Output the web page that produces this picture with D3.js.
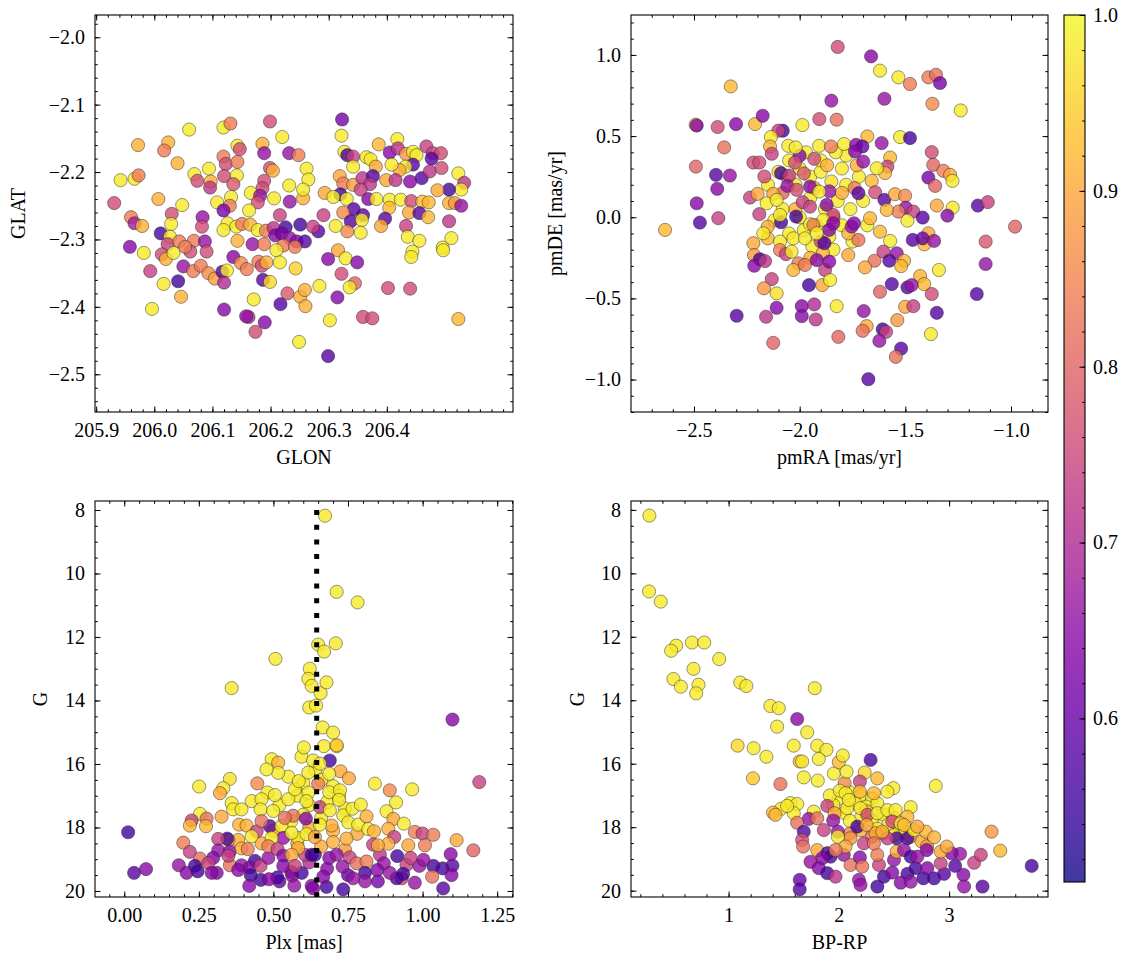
<!DOCTYPE html>
<html><head><meta charset="utf-8">
<script src="https://cdn.jsdelivr.net/npm/d3@7"></script>
<style>body{margin:0;background:#fff}</style>
</head><body>
<svg id="c" width="1133" height="965"></svg>
<script>
// ---------------- DATA ----------------
// Panel 1: [GLON, GLAT, probability]
const posData = [
[206.060,-2.137,.98],[206.119,-2.134,.98],[206.131,-2.128,.84],[206.199,-2.125,.76],[205.972,-2.160,.91],
[206.024,-2.156,.91],[206.017,-2.168,.84],[206.143,-2.161,.98],[206.147,-2.166,.76],[206.186,-2.158,.91],
[206.220,-2.148,.98],[206.119,-2.177,.84],[206.123,-2.188,.76],[206.143,-2.185,.84],[206.189,-2.172,.66],
[206.232,-2.172,.66],[206.248,-2.175,.84],[206.040,-2.187,.91],[205.942,-2.212,.98],[205.966,-2.210,.98],
[205.973,-2.205,.84],[206.069,-2.203,.98],[206.094,-2.195,.98],[206.074,-2.213,.76],[206.097,-2.214,.91],
[206.096,-2.223,.72],[206.120,-2.206,.76],[206.142,-2.205,.98],[206.136,-2.218,.78],[206.199,-2.194,.76],
[206.204,-2.198,.91],[206.189,-2.213,.76],[206.186,-2.224,.76],[206.232,-2.220,.98],[206.262,-2.195,.98],
[205.931,-2.246,.76],[206.007,-2.240,.91],[206.048,-2.249,.98],[206.108,-2.245,.98],[206.132,-2.237,.98],
[206.130,-2.250,.84],[206.119,-2.257,.62],[206.166,-2.231,.98],[206.182,-2.235,.66],[206.178,-2.245,.76],
[206.163,-2.257,.98],[206.206,-2.239,.98],[206.233,-2.244,.66],[206.256,-2.239,.91],[205.960,-2.267,.84],
[205.966,-2.276,.68],[205.979,-2.280,.91],[206.030,-2.262,.76],[206.029,-2.277,.98],[206.083,-2.267,.66],
[206.082,-2.281,.76],[206.126,-2.276,.98],[206.141,-2.281,.98],[206.151,-2.277,.84],[206.165,-2.278,.91],
[206.119,-2.286,.98],[206.011,-2.291,.56],[206.027,-2.296,.98],[206.023,-2.307,.74],[206.043,-2.303,.84],
[206.068,-2.302,.84],[206.087,-2.303,.66],[206.090,-2.318,.76],[206.062,-2.318,.76],[206.053,-2.311,.84],
[205.958,-2.311,.64],[205.982,-2.320,.98],[206.013,-2.322,.76],[206.020,-2.329,.91],[206.033,-2.320,.98],
[206.143,-2.302,.91],[206.169,-2.307,.66],[206.189,-2.307,.84],[206.178,-2.286,.98],[206.192,-2.287,.84],
[206.205,-2.283,.72],[206.216,-2.264,.74],[206.226,-2.282,.56],[206.251,-2.278,.56],[206.208,-2.294,.64],
[206.219,-2.291,.62],[206.233,-2.298,.66],[206.245,-2.303,.64],[206.259,-2.303,.58],[206.222,-2.309,.84],
[206.210,-2.316,.98],[206.242,-2.311,.84],[206.136,-2.326,.64],[206.149,-2.335,.86],[206.159,-2.344,.84],
[206.179,-2.333,.84],[206.185,-2.339,.76],[206.193,-2.334,.91],[206.216,-2.334,.98],[206.243,-2.343,.95],
[205.993,-2.347,.74],[206.050,-2.340,.66],[206.067,-2.347,.84],[206.080,-2.339,.84],[206.093,-2.350,.86],
[206.104,-2.358,.89],[206.117,-2.348,.58],[206.125,-2.346,.98],[206.120,-2.364,.70],[206.187,-2.360,.58],
[206.199,-2.363,.96],[206.041,-2.362,.56],[206.016,-2.366,.98],[206.046,-2.385,.91],[205.996,-2.403,.98],
[206.171,-2.389,.98],[206.229,-2.380,.78],[206.251,-2.385,.91],[206.259,-2.375,.91],[206.260,-2.399,.91],
[206.120,-2.404,.64],[206.217,-2.396,.58],[206.162,-2.415,.70],[206.158,-2.414,.66],[206.190,-2.423,.64],
[206.174,-2.437,.76],[206.249,-2.452,.98],
[206.323,-2.122,.62],[206.322,-2.146,.98],[206.327,-2.170,.98],[206.332,-2.175,.56],[206.342,-2.177,.74],
[206.342,-2.192,.98],[206.365,-2.178,.98],[206.372,-2.181,.98],[206.386,-2.159,.92],[206.381,-2.192,.90],
[206.405,-2.171,.64],[206.418,-2.151,.98],[206.419,-2.165,.72],[206.433,-2.173,.88],[206.445,-2.170,.98],
[206.451,-2.175,.98],[206.468,-2.162,.74],[206.479,-2.172,.74],[206.493,-2.172,.76],[206.477,-2.180,.58],
[206.445,-2.189,.58],[206.432,-2.192,.98],[206.422,-2.197,.90],[206.408,-2.189,.98],[206.399,-2.212,.90],
[206.415,-2.212,.72],[206.440,-2.214,.64],[206.460,-2.209,.58],[206.474,-2.199,.72],[206.494,-2.194,.76],
[206.523,-2.202,.98],[206.533,-2.216,.72],[206.528,-2.226,.98],[206.507,-2.226,.56],[206.487,-2.227,.90],
[206.507,-2.246,.91],[206.517,-2.246,.88],[206.528,-2.250,.66],[206.507,-2.273,.72],[206.319,-2.206,.90],
[206.325,-2.217,.84],[206.320,-2.233,.56],[206.293,-2.231,.90],[206.308,-2.237,.98],[206.331,-2.240,.98],
[206.342,-2.219,.89],[206.358,-2.209,.72],[206.376,-2.206,.58],[206.371,-2.218,.72],[206.355,-2.226,.74],
[206.368,-2.240,.64],[206.382,-2.240,.98],[206.405,-2.241,.98],[206.424,-2.241,.98],[206.442,-2.243,.76],
[206.461,-2.244,.92],[206.472,-2.245,.92],[206.404,-2.253,.92],[206.438,-2.260,.90],[206.456,-2.261,.58],
[206.471,-2.267,.92],[206.343,-2.255,.58],[206.325,-2.260,.86],[206.359,-2.264,.58],[206.338,-2.273,.58],
[206.357,-2.271,.98],[206.355,-2.290,.98],[206.332,-2.288,.86],[206.312,-2.280,.98],[206.397,-2.269,.58],
[206.390,-2.280,.90],[206.433,-2.280,.74],[206.436,-2.296,.98],[206.456,-2.302,.98],[206.444,-2.318,.98],
[206.442,-2.326,.98],[206.496,-2.312,.98],[206.497,-2.316,.98],[206.511,-2.298,.98],[206.265,-2.211,.98],
[206.256,-2.226,.98],[206.291,-2.264,.74],[206.282,-2.288,.58],[206.273,-2.281,.74],[206.316,-2.316,.90],
[206.329,-2.328,.98],[206.299,-2.329,.64],[206.349,-2.334,.64],[206.322,-2.351,.76],[206.345,-2.365,.80],
[206.336,-2.371,.98],[206.284,-2.369,.98],[206.315,-2.386,.64],[206.402,-2.372,.76],[206.440,-2.373,.76],
[206.359,-2.415,.76],[206.375,-2.417,.76],[206.302,-2.420,.98],[206.523,-2.418,.92],[206.299,-2.473,.58]
];

// Panel 2: [pmRA, pmDE, probability]
const pmData = [
[-2.05,0.35,.98],[-2.0,0.30,.98],[-1.95,0.25,.98],[-1.90,0.28,.98],[-1.85,0.22,.97],[-1.80,0.30,.98],
[-1.78,0.20,.98],[-1.95,0.12,.98],[-1.88,0.05,.98],[-1.82,0.10,.98],[-1.76,0.05,.98],[-2.02,0.20,.98],
[-2.08,0.05,.98],[-1.92,-0.05,.98],[-1.86,-0.12,.98],[-1.80,-0.05,.98],[-1.98,-0.08,.98],[-2.12,-0.02,.98],
[-1.75,-0.15,.98],[-1.84,-0.20,.98],[-1.94,-0.18,.98],[-2.0,0.0,.98],[-1.78,0.38,.98],[-1.83,0.40,.98],
[-1.97,0.40,.98],[-2.10,0.28,.98],[-2.15,0.20,.98],[-1.72,0.25,.98],[-1.70,0.10,.98],[-1.68,-0.05,.98],
[-2.05,-0.10,.98],[-1.90,0.35,.98],
[-1.93,0.18,.91],[-1.80,0.15,.91],[-1.87,0.32,.91],[-2.02,0.05,.91],[-1.77,-0.10,.91],[-1.89,-0.22,.91],
[-1.73,0.32,.91],[-2.06,0.25,.91],[-1.95,-0.25,.91],
[-1.84,0.00,.82],[-1.98,0.27,.78],[-2.08,0.15,.80],[-1.74,0.18,.84],[-1.90,-0.15,.76],
[-1.86,0.16,.66],[-2.0,0.38,.64],
[-1.820,1.049,.76],[-2.326,0.806,.92],[-1.850,0.718,.66],[-2.492,0.570,.91],[-2.487,0.565,.64],
[-2.388,0.556,.76],[-2.301,0.574,.64],[-2.211,0.574,.92],[-2.175,0.625,.64],[-1.987,0.568,.98],
[-1.907,0.605,.76],[-1.825,0.601,.82],[-2.080,0.533,.56],[-2.101,0.533,.74],[-2.357,0.430,.82],
[-2.136,0.494,.98],[-2.140,0.436,.92],[-2.054,0.440,.98],[-2.019,0.430,.98],[-1.908,0.440,.98],
[-1.852,0.436,.84],[-2.132,0.391,.74],[-2.491,0.312,.80],[-2.219,0.337,.76],[-2.191,0.337,.76],
[-2.396,0.261,.58],[-2.330,0.257,.66],[-2.167,0.251,.76],[-2.088,0.272,.56],[-2.049,0.257,.74],
[-2.022,0.337,.76],[-1.931,0.360,.76],[-2.390,0.175,.64],[-2.235,0.121,.74],[-2.199,0.144,.90],
[-2.125,0.144,.90],[-2.058,0.193,.66],[-2.014,0.169,.76],[-1.951,0.189,.64],[-2.487,0.086,.64],
[-2.472,-0.033,.58],[-2.385,-0.006,.74],[-2.191,0.019,.74],[-2.088,-0.031,.56],[-2.017,0.004,.56],
[-2.156,0.086,.98],[-2.109,0.107,.98],[-1.986,0.093,.74],[-1.907,0.158,.98],[-1.872,0.076,.64],
[-1.841,0.014,.76],[-2.637,-0.078,.92],[-1.951,-0.043,.98],[-1.888,-0.017,.98],
[-2.219,-0.160,.90],[-2.216,-0.233,.88],[-2.188,-0.259,.56],[-2.215,-0.299,.64],[-2.164,-0.270,.72],
[-2.151,-0.130,.92],[-2.093,-0.150,.98],[-2.151,-0.058,.90],[-2.093,-0.202,.84],[-2.065,-0.227,.74],
[-2.038,-0.212,.98],[-2.030,-0.130,.98],[-1.975,-0.130,.98],[-2.006,-0.284,.84],[-2.030,-0.325,.92],
[-1.975,-0.294,.84],[-1.956,-0.418,.56],[-1.919,-0.264,.64],[-1.880,-0.325,.74],[-1.893,-0.418,.90],
[-1.883,-0.160,.58],[-1.856,-0.387,.98],[-1.860,-0.274,.64],[-2.132,-0.381,.74],[-2.169,-0.438,.88],
[-2.109,-0.469,.97],[-2.298,-0.607,.58],[-2.159,-0.613,.72],[-2.109,-0.558,.64],[-1.990,-0.548,.64],
[-1.931,-0.537,.70],[-1.990,-0.609,.64],[-1.924,-0.630,.72],[-2.125,-0.774,.80],[-1.817,-0.737,.80],
[-1.825,-0.548,.98],[-1.951,0.065,.74],[-1.860,-0.078,.64],[-1.841,-0.037,.64],[-2.172,-0.099,.98],
[-1.935,-0.048,.84],[-1.919,-0.099,.98],[-2.093,0.014,.98],
[-1.662,0.991,.64],[-1.620,0.903,.98],[-1.533,0.862,.98],[-1.478,0.821,.84],[-1.391,0.862,.84],
[-1.355,0.878,.82],[-1.336,0.827,.62],[-1.599,0.730,.66],[-1.372,0.699,.86],[-1.238,0.658,.98],
[-1.680,0.498,.92],[-1.790,0.451,.98],[-1.733,0.446,.64],[-1.703,0.436,.60],[-1.699,0.343,.66],
[-1.738,0.405,.64],[-1.612,0.457,.66],[-1.525,0.494,.98],[-1.478,0.488,.56],[-1.375,0.401,.76],
[-1.368,0.323,.80],[-1.391,0.244,.62],[-1.359,0.193,.80],[-1.320,0.286,.84],[-1.288,0.261,.90],
[-1.277,0.224,.98],[-1.572,0.368,.92],[-1.585,0.312,.74],[-1.596,0.272,.92],[-1.635,0.302,.98],
[-1.659,0.224,.92],[-1.722,0.148,.58],[-1.643,0.154,.76],[-1.599,0.107,.58],[-1.549,0.142,.90],
[-1.501,0.133,.86],[-1.498,0.059,.66],[-1.462,0.035,.74],[-1.418,-0.002,.58],[-1.490,-0.021,.98],
[-1.533,0.035,.84],[-1.588,0.045,.92],[-1.351,0.072,.90],[-1.276,0.059,.98],[-1.301,0.010,.64],
[-1.157,0.072,.58],[-1.110,0.093,.74],[-0.981,-0.058,.80],[-1.120,-0.150,.78],[-1.120,-0.288,.66],
[-1.162,-0.473,.58],[-1.391,-0.099,.90],[-1.410,-0.167,.92],[-1.465,-0.140,.58],[-1.418,-0.130,.60],
[-1.364,-0.146,.66],[-1.572,-0.146,.98],[-1.620,-0.089,.92],[-1.667,-0.006,.92],[-1.722,-0.140,.82],
[-1.754,-0.058,.66],[-1.770,-0.233,.90],[-1.604,-0.212,.74],[-1.646,-0.268,.82],[-1.691,-0.309,.90],
[-1.541,-0.222,.66],[-1.576,-0.268,.58],[-1.506,-0.268,.92],[-1.520,-0.301,.92],[-1.341,-0.325,.98],
[-1.430,-0.362,.91],[-1.411,-0.412,.92],[-1.564,-0.412,.58],[-1.490,-0.432,.58],[-1.470,-0.418,.66],
[-1.375,-0.473,.76],[-1.620,-0.459,.80],[-1.697,-0.578,.66],[-1.501,-0.552,.90],[-1.462,-0.548,.74],
[-1.351,-0.589,.58],[-1.538,-0.634,.88],[-1.683,-0.671,.90],[-1.702,-0.700,.82],[-1.607,-0.691,.56],
[-1.591,-0.706,.74],[-1.623,-0.762,.66],[-1.379,-0.720,.98],[-1.520,-0.809,.58],[-1.545,-0.860,.82],
[-1.675,-0.998,.58],[-1.743,-0.037,.64]
];

// Panel 3: [Plx, G, probability]
const plxData = [
[0.55,16.4,.98],[0.60,16.6,.98],[0.64,16.2,.98],[0.66,16.5,.98],[0.70,16.7,.98],[0.58,17.0,.98],
[0.62,17.3,.98],[0.68,17.2,.98],[0.72,17.0,.98],[0.52,17.3,.98],[0.60,17.6,.98],[0.66,17.7,.98],
[0.74,17.4,.98],[0.48,16.9,.98],[0.56,17.8,.98],
[0.62,18.0,.91],[0.70,18.1,.91],[0.50,18.1,.91],[0.78,18.2,.90],[0.58,18.5,.90],[0.66,18.6,.90],
[0.74,18.7,.88],[0.46,18.5,.90],
[0.62,19.1,.70],[0.68,19.3,.64],[0.56,19.4,.66],[0.75,19.5,.60],[0.85,19.7,.62],[0.52,19.7,.60],
[0.013,18.15,.56],[0.033,19.43,.58],[0.073,19.31,.64],[0.251,16.71,.98],[0.354,16.47,.97],
[0.332,16.76,.98],[0.321,16.92,.90],[0.446,16.61,.86],[0.494,15.85,.98],[0.516,15.96,.91],
[0.516,16.28,.98],[0.477,16.17,.98],[0.594,15.77,.98],[0.602,15.48,.98],[0.360,17.23,.98],
[0.254,17.57,.98],[0.226,17.78,.74],[0.276,17.72,.82],[0.220,17.94,.92],[0.274,17.96,.92],
[0.326,17.66,.90],[0.365,17.43,.98],[0.393,17.43,.98],[0.427,17.17,.98],[0.460,17.11,.98],
[0.457,17.43,.98],[0.505,16.98,.98],[0.499,17.48,.98],[0.550,17.11,.98],[0.572,16.80,.98],
[0.617,16.90,.98],[0.611,17.17,.98],[0.585,16.54,.98],[0.617,16.27,.98],[0.566,17.63,.82],
[0.609,17.72,.64],[0.385,17.91,.91],[0.410,17.94,.91],[0.444,18.12,.74],[0.488,17.96,.58],
[0.460,17.80,.82],[0.527,17.96,.98],[0.533,18.33,.66],[0.583,18.33,.98],[0.561,18.17,.98],
[0.427,18.28,.98],[0.494,18.33,.98],[0.382,18.39,.91],[0.349,18.39,.91],[0.345,18.35,.56],
[0.315,18.36,.74],[0.315,18.72,.66],[0.354,18.75,.64],[0.298,18.96,.64],[0.198,18.48,.84],
[0.220,18.77,.74],[0.254,18.98,.82],[0.237,19.21,.56],[0.183,19.19,.66],[0.209,19.43,.64],
[0.246,19.38,.56],[0.310,19.43,.64],[0.354,19.19,.82],[0.393,19.19,.66],[0.393,18.66,.91],
[0.414,18.68,.84],[0.438,19.05,.56],[0.421,19.26,.64],[0.457,19.21,.74],[0.483,18.96,.66],
[0.483,18.59,.84],[0.514,18.68,.74],[0.533,18.89,.64],[0.533,19.21,.64],[0.424,19.50,.56],
[0.458,19.65,.56],[0.513,19.57,.56],[0.485,19.63,.64],[0.419,19.84,.64],[0.563,19.52,.64],
[0.595,19.43,.56],[0.570,19.83,.66],[0.628,19.84,.64],[0.606,18.86,.74],[0.583,18.65,.91],
[0.561,18.86,.90],[0.628,18.86,.56],[0.572,19.21,.74],[0.382,19.34,.64],[0.349,18.89,.74],
[0.282,19.12,.74],[0.293,19.43,.64],[0.538,17.70,.82],
[0.669,15.44,.98],[0.712,15.44,.98],[0.689,15.89,.56],[0.633,15.89,.98],[0.656,15.99,.98],
[0.725,16.23,.90],[0.753,16.45,.90],[0.687,16.31,.98],[0.840,16.62,.98],[0.890,16.83,.86],
[0.965,16.80,.98],[1.190,16.57,.74],[0.650,16.62,.84],[0.687,16.89,.98],[0.723,16.83,.98],
[0.656,17.36,.74],[0.720,17.13,.98],[0.689,17.46,.98],[0.734,17.62,.98],[0.765,17.41,.98],
[0.793,17.28,.98],[0.695,17.94,.91],[0.656,17.91,.98],[0.611,18.21,.98],[0.751,17.84,.98],
[0.784,17.91,.98],[0.812,17.65,.91],[0.818,18.05,.98],[0.837,18.12,.91],[0.879,17.49,.98],
[0.911,17.21,.98],[0.902,17.73,.90],[0.937,17.88,.98],[0.885,18.04,.91],[0.905,18.30,.74],
[0.974,18.14,.84],[1.000,18.19,.74],[1.036,18.23,.84],[1.114,18.40,.90],[1.170,18.72,.80],
[1.008,18.56,.84],[0.952,18.56,.90],[0.885,18.51,.91],[0.745,18.35,.91],[0.700,18.46,.91],
[0.639,18.30,.90],[0.639,18.86,.56],[0.687,18.96,.64],[0.712,18.86,.66],[0.756,18.94,.74],
[0.732,19.23,.66],[0.779,19.13,.82],[0.812,19.07,.84],[0.834,18.54,.74],[0.857,18.86,.72],
[0.870,19.13,.66],[0.915,18.90,.56],[0.946,19.18,.74],[0.989,19.21,.66],[1.036,19.21,.56],
[1.067,19.29,.56],[1.100,19.20,.58],[1.094,18.84,.64],[1.097,19.50,.64],[1.032,19.55,.82],
[1.069,19.92,.58],[0.974,19.74,.66],[0.930,19.60,.74],[0.935,19.46,.56],[0.913,19.60,.56],
[0.890,19.43,.66],[0.807,19.43,.56],[0.807,19.70,.66],[0.767,19.60,.66],[0.848,19.34,.64],
[0.734,19.95,.56],[0.678,19.87,.56],[0.667,19.55,.64],[0.633,19.92,.64],[0.850,18.56,.91],
[0.960,18.96,.74],[1.003,19.02,.66],
[0.673,8.18,.98],[0.712,10.58,.98],[0.782,10.91,.98],[0.650,12.24,.98],[0.670,12.46,.98],
[0.709,12.20,.98],[0.507,12.69,.98],[0.622,13.00,.98],[0.617,13.32,.98],[0.628,13.54,.98],
[0.658,13.77,.98],[0.678,13.43,.98],[0.620,14.22,.98],[0.643,14.16,.98],[0.360,13.61,.98],
[0.665,14.85,.98],[0.700,15.01,.98],[0.712,15.41,.94],[1.100,14.60,.64]
];

// Panel 4: [BP-RP, G, probability]
const cmdData = [
[2.10,16.9,.98],[2.20,17.0,.98],[2.30,17.1,.98],[2.15,17.25,.98],[2.25,17.35,.98],[2.35,17.25,.98],
[2.40,17.6,.98],[2.20,17.7,.98],[2.30,17.8,.98],[2.45,17.9,.98],[2.05,17.55,.98],[2.10,17.8,.98],
[2.55,18.0,.98],[2.60,18.15,.98],[2.50,18.25,.97],[2.35,18.05,.98],[2.00,17.1,.98],[1.95,17.3,.98],
[2.25,17.5,.92],[2.40,18.2,.90],[2.20,18.1,.91],[2.50,17.7,.92],[2.65,18.3,.90],[2.75,18.45,.90],
[2.80,18.6,.88],[2.30,18.3,.82],[2.10,18.2,.84],
[0.282,8.18,.98],[0.279,10.57,.98],[0.385,10.89,.98],[0.525,12.28,.98],[0.479,12.44,.98],
[0.667,12.18,.98],[0.779,12.18,.98],[0.915,12.70,.98],[0.682,13.01,.98],[0.500,13.33,.98],
[0.567,13.57,.98],[0.727,13.51,.98],[0.706,13.78,.98],[1.106,13.44,.98],[1.161,13.55,.98],
[1.782,13.62,.98],[1.379,14.18,.98],[1.455,14.25,.98],[1.622,14.59,.64],[1.440,14.83,.98],
[1.713,15.01,.98],[1.082,15.43,.96],[1.227,15.51,.98],[1.343,15.78,.98],[1.591,15.43,.98],
[1.804,15.43,.98],[1.888,15.56,.98],[1.818,15.85,.98],[1.645,15.93,.92],[1.667,15.93,.98],
[1.221,16.46,.94],[1.470,16.64,.82],[1.682,16.43,.98],[1.809,16.53,.98],[1.955,16.31,.98],
[2.000,15.95,.92],[2.036,15.74,.98],[2.052,16.61,.86],[1.918,17.00,.98],[2.009,16.85,.98],
[1.561,17.24,.98],[1.622,17.27,.98],[1.476,17.42,.98],[1.403,17.54,.92],[1.425,17.61,.92],
[1.591,17.56,.98],[1.773,17.51,.98],[1.895,17.33,.74],[1.961,17.56,.90],[1.727,17.74,.66],
[1.804,17.72,.82],[1.949,17.79,.66],[1.622,17.86,.82],[2.076,17.40,.98],[2.061,16.93,.98],
[2.288,15.88,.56],[2.070,16.25,.98],[2.234,16.28,.96],[2.349,16.46,.92],[2.191,16.56,.74],
[2.879,16.70,.98],[2.495,16.77,.98],[2.440,16.88,.98],[2.318,16.93,.92],[2.191,16.88,.92],
[2.091,17.14,.98],[1.531,17.33,.98],[2.197,17.40,.98],[2.258,17.61,.76],[2.349,17.56,.98],
[2.440,17.46,.98],[2.515,17.46,.98],[2.652,17.37,.98],[2.622,17.67,.92],[2.485,17.82,.76],
[2.561,17.88,.98],[2.167,17.98,.56],[2.252,17.93,.90],[2.334,18.19,.90],[2.227,18.51,.74],
[2.106,18.35,.88],[1.991,18.14,.66],[1.991,18.30,.98],[1.864,18.09,.74],[1.682,18.14,.58],
[1.667,18.40,.76],[1.676,18.61,.82],[1.804,18.72,.90],[1.895,18.82,.56],[1.925,18.93,.56],
[1.849,18.98,.64],[1.743,19.09,.66],[1.818,19.29,.64],[1.895,19.45,.56],[1.970,19.56,.72],
[1.645,19.66,.60],[1.645,19.96,.58],[2.045,18.87,.66],[2.106,19.19,.82],[2.191,18.95,.64],
[2.212,19.24,.82],[2.182,19.66,.66],[2.197,19.82,.66],[2.349,19.87,.56],[2.364,19.19,.74],
[2.349,18.87,.84],[2.500,19.03,.66],[2.525,18.77,.91],[2.525,18.35,.56],[2.622,18.35,.56],
[2.591,18.72,.66],[2.652,18.93,.56],[2.409,19.56,.56],[2.485,19.43,.64],[2.622,19.47,.56],
[2.697,19.29,.56],[2.561,19.75,.64],[2.767,19.61,.56],[2.864,19.61,.56],[2.955,19.47,.58],
[2.803,19.29,.64],[2.924,19.14,.74],[3.055,19.22,.58],[3.130,19.50,.64],[3.136,19.87,.66],
[3.303,19.87,.58],[3.227,19.12,.74],[3.288,18.87,.74],[3.100,18.84,.66],[3.022,18.82,.64],
[2.924,18.77,.90],[2.797,18.72,.64],[2.788,18.14,.92],[2.864,18.32,.91],[2.979,18.61,.90],
[3.385,18.14,.88],[3.464,18.74,.92],[3.749,19.22,.56],[2.682,18.09,.98],[2.712,17.98,.90],
[2.591,17.93,.92],[2.440,18.35,.74],[2.394,18.14,.91],[2.061,18.61,.90],[1.970,18.72,.84],
[2.652,19.72,.66],[2.712,18.93,.66],[2.318,18.51,.84]
];

// tick values
const glonTicks = [205.9, 206.0, 206.1, 206.2, 206.3, 206.4];
const glatTicks = [-2.5, -2.4, -2.3, -2.2, -2.1, -2.0];
const pmraTicks = [-2.5, -2.0, -1.5, -1.0];
const pmdeTicks = [-1.0, -0.5, 0.0, 0.5, 1.0];
const plxTicks = [0.00, 0.25, 0.50, 0.75, 1.00, 1.25];
const gTicks = [8, 10, 12, 14, 16, 18, 20];
const bprpTicks = [1, 2, 3];
const probTicks = [0.6, 0.7, 0.8, 0.9, 1.0];
const plxRef = 0.645;          // reference parallax (dotted line)
const plxRefG = [8.0, 20.3];   // extent of dotted line in G
const probRange = [0.507, 1.0];

// ---------------- DRAWING ----------------
const svg = d3.select("#c");
const FONT = '"Liberation Serif", "Times New Roman", serif';
const FS = 20;
const color = p => d3.interpolatePlasma((p - probRange[0]) / (probRange[1] - probRange[0]));
const minus = s => s.replace(/-/g, "\u2212");

function minorRange(dom, step) {
  const lo = Math.min(...dom), hi = Math.max(...dom);
  const a = Math.ceil(lo / step - 1e-9), b = Math.floor(hi / step + 1e-9);
  return d3.range(a, b + 1).map(k => +(k * step).toFixed(6));
}

function styleAxis(g) {
  g.select(".domain").remove();
  g.attr("font-family", FONT).attr("font-size", FS);
  g.selectAll("line").attr("stroke", "#000").attr("stroke-width", 1);
  g.selectAll("text").attr("fill", "#000").attr("font-family", FONT);
}

function panel(o) {
  const x = d3.scaleLinear().domain(o.xDomain).range([o.left, o.right]);
  const y = d3.scaleLinear().domain(o.yDomain).range([o.bottom, o.top]);
  const g = svg.append("g");
  const cid = "clip" + o.id;
  svg.append("clipPath").attr("id", cid).append("rect")
    .attr("x", o.left).attr("y", o.top).attr("width", o.right - o.left).attr("height", o.bottom - o.top);
  const pg = g.append("g").attr("clip-path", `url(#${cid})`);
  pg.selectAll("circle").data(o.data).join("circle")
    .attr("cx", d => x(d[0])).attr("cy", d => y(d[1])).attr("r", 6.6)
    .attr("fill", d => color(d[2])).attr("fill-opacity", 0.8)
    .attr("stroke", "#222").attr("stroke-width", 0.55).attr("stroke-opacity", 0.85);
  if (o.extra) o.extra(pg, x, y);

  const xMin = minorRange(o.xDomain, o.xMinor), yMin = minorRange(o.yDomain, o.yMinor);
  // bottom
  g.append("g").attr("transform", `translate(0,${o.bottom})`)
    .call(d3.axisBottom(x).tickValues(xMin).tickSize(-2.8).tickFormat("")).call(styleAxis);
  g.append("g").attr("transform", `translate(0,${o.bottom})`)
    .call(d3.axisBottom(x).tickValues(o.xTicks).tickSize(-5.5).tickPadding(11).tickFormat(d => minus(o.xFmt(d)))).call(styleAxis);
  // top
  g.append("g").attr("transform", `translate(0,${o.top})`)
    .call(d3.axisTop(x).tickValues(xMin).tickSize(-2.8).tickFormat("")).call(styleAxis);
  g.append("g").attr("transform", `translate(0,${o.top})`)
    .call(d3.axisTop(x).tickValues(o.xTicks).tickSize(-5.5).tickFormat("")).call(styleAxis);
  // left
  g.append("g").attr("transform", `translate(${o.left},0)`)
    .call(d3.axisLeft(y).tickValues(yMin).tickSize(-2.8).tickFormat("")).call(styleAxis);
  g.append("g").attr("transform", `translate(${o.left},0)`)
    .call(d3.axisLeft(y).tickValues(o.yTicks).tickSize(-5.5).tickPadding(10).tickFormat(d => minus(o.yFmt(d)))).call(styleAxis);
  // right
  g.append("g").attr("transform", `translate(${o.right},0)`)
    .call(d3.axisRight(y).tickValues(yMin).tickSize(-2.8).tickFormat("")).call(styleAxis);
  g.append("g").attr("transform", `translate(${o.right},0)`)
    .call(d3.axisRight(y).tickValues(o.yTicks).tickSize(-5.5).tickFormat("")).call(styleAxis);

  g.append("rect").attr("x", o.left).attr("y", o.top)
    .attr("width", o.right - o.left).attr("height", o.bottom - o.top)
    .attr("fill", "none").attr("stroke", "#000").attr("stroke-width", 1.1);

  g.append("text").attr("x", (o.left + o.right) / 2).attr("y", o.bottom + 52)
    .attr("text-anchor", "middle").attr("font-family", FONT).attr("font-size", FS).text(o.xLabel);
  g.append("text").attr("transform", `translate(${o.left - o.yLabelOff},${(o.top + o.bottom) / 2}) rotate(-90)`)
    .attr("text-anchor", "middle").attr("dominant-baseline", "central")
    .attr("font-family", FONT).attr("font-size", FS).text(o.yLabel);
}

const f1 = d3.format(".1f"), f2 = d3.format(".2f"), f0 = d3.format("d");

panel({id: 1, left: 95, right: 513, top: 15, bottom: 412,
  xDomain: [205.898, 206.617], yDomain: [-2.556, -1.967],
  xTicks: glonTicks, yTicks: glatTicks, xMinor: 0.02, yMinor: 0.02, xFmt: f1, yFmt: f1,
  data: posData, xLabel: "GLON", yLabel: "GLAT", yLabelOff: 77});

panel({id: 2, left: 631, right: 1048, top: 15, bottom: 412,
  xDomain: [-2.798, -0.825], yDomain: [-1.200, 1.246],
  xTicks: pmraTicks, yTicks: pmdeTicks, xMinor: 0.1, yMinor: 0.1, xFmt: f1, yFmt: f1,
  data: pmData, xLabel: "pmRA [mas/yr]", yLabel: "pmDE [mas/yr]", yLabelOff: 76});

panel({id: 3, left: 95, right: 513, top: 501, bottom: 897,
  xDomain: [-0.098, 1.303], yDomain: [20.19, 7.717],
  xTicks: plxTicks, yTicks: gTicks, xMinor: 0.05, yMinor: 0.5, xFmt: f2, yFmt: f0,
  data: plxData, xLabel: "Plx [mas]", yLabel: "G", yLabelOff: 55,
  extra: (g, x, y) => g.append("line")
    .attr("x1", x(plxRef)).attr("x2", x(plxRef)).attr("y1", y(plxRefG[0])).attr("y2", y(plxRefG[1]))
    .attr("stroke", "#000").attr("stroke-width", 5).attr("stroke-dasharray", "5,9.7")});

panel({id: 4, left: 631, right: 1048, top: 501, bottom: 897,
  xDomain: [0.115, 3.897], yDomain: [20.2, 7.72],
  xTicks: bprpTicks, yTicks: gTicks, xMinor: 0.2, yMinor: 0.5, xFmt: f0, yFmt: f0,
  data: cmdData, xLabel: "BP-RP", yLabel: "G", yLabelOff: 54});

// ---------------- COLORBAR ----------------
const cb = {left: 1064, right: 1085, top: 15, bottom: 882};
const cScale = d3.scaleLinear().domain(probRange).range([cb.bottom, cb.top]);
const grad = svg.append("defs").append("linearGradient").attr("id", "cbg")
  .attr("x1", 0).attr("y1", 1).attr("x2", 0).attr("y2", 0);
d3.range(0, 1.0001, 0.02).forEach(t => grad.append("stop")
  .attr("offset", t).attr("stop-color", d3.interpolatePlasma(t)));
svg.append("rect").attr("x", cb.left).attr("y", cb.top)
  .attr("width", cb.right - cb.left).attr("height", cb.bottom - cb.top)
  .attr("fill", "url(#cbg)").attr("fill-opacity", 0.8);
const cg = svg.append("g");
cg.append("g").attr("transform", `translate(${cb.right},0)`)
  .call(d3.axisRight(cScale).tickValues(minorRange(probRange, 0.02)).tickSize(-2.8).tickFormat("")).call(styleAxis);
cg.append("g").attr("transform", `translate(${cb.right},0)`)
  .call(d3.axisRight(cScale).tickValues(probTicks).tickSize(-5.5).tickPadding(8).tickFormat(f1)).call(styleAxis);
svg.append("rect").attr("x", cb.left).attr("y", cb.top)
  .attr("width", cb.right - cb.left).attr("height", cb.bottom - cb.top)
  .attr("fill", "none").attr("stroke", "#000").attr("stroke-width", 1.1);
</script>
</body></html>
